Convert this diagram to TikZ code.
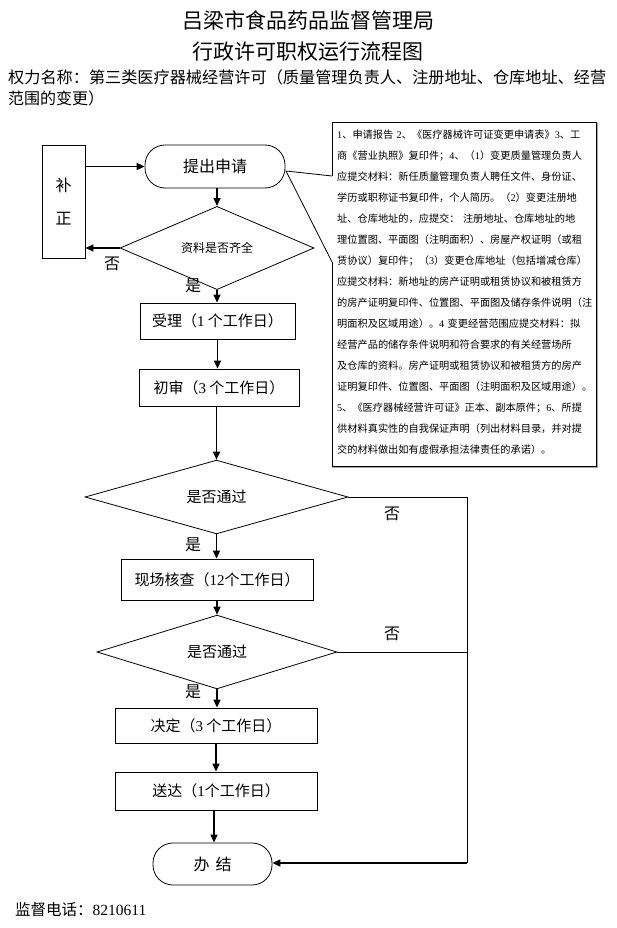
\documentclass[tikz,border=0pt]{standalone}
\usepackage{fontspec}
\setmainfont{Noto Sans CJK SC}
\newfontfamily\latin{Liberation Serif}
\usetikzlibrary{shapes.geometric,arrows.meta}
\newcommand\dg[1]{{\latin #1}}
\tikzset{
  every node/.style={inner sep=0pt},
  pbox/.style={draw, line width=0.8pt, rectangle, font=\fontsize{15}{18}\selectfont},
  term/.style={draw, line width=0.8pt, rectangle, rounded corners=20pt, font=\fontsize{16}{18}\selectfont},
  dia/.style={draw, line width=0.8pt, diamond, aspect=1, font=\fontsize{15}{18}\selectfont},
  arr/.style={line width=1.6pt, -{Triangle[length=8pt,width=7pt]}},
  noline/.style={line width=1pt},
  lbl/.style={font=\fontsize{16}{18}\selectfont},
}
\begin{document}
\begin{tikzpicture}[x=1pt,y=-1pt]
\useasboundingbox (0,0) rectangle (617,928);
% titles
\node[font=\fontsize{21}{24}\selectfont] (t1) at (308,20) {吕梁市食品药品监督管理局};
\node[font=\fontsize{21}{24}\selectfont] (t2) at (308,52) {行政许可职权运行流程图};
\node[font=\fontsize{16.6}{21}\selectfont, anchor=west] (t3) at (8,77) {\resizebox{598pt}{!}{权力名称：第三类医疗器械经营许可（质量管理负责人、注册地址、仓库地址、经营}};
\node[font=\fontsize{16}{21}\selectfont, anchor=west] (t4) at (8,98) {范围的变更）};
% flow nodes
\node[draw, line width=0.8pt, minimum width=43pt, minimum height=113pt, align=center, font=\fontsize{16}{33}\selectfont] (bz) at (63.5,201.5) {补\\正};
\node[term, minimum width=140pt, minimum height=43pt] (tc) at (215,166.5) {提出申请};
\node[dia, minimum width=194pt, minimum height=62pt, font=\fontsize{12}{14}\selectfont] (d1) at (217,248) {资料是否齐全};
\node[pbox, minimum width=155pt, minimum height=36pt] (sl) at (217.5,321) {受理（\dg{1} 个工作日）};
\node[pbox, minimum width=160pt, minimum height=37pt] (cs) at (219,387.5) {初审（\dg{3} 个工作日）};
\node[dia, minimum width=263pt, minimum height=64pt] (d2) at (216.5,497) {是否通过};
\node[pbox, minimum width=192pt, minimum height=41pt] (xc) at (217,579.5) {现场核查（\dg{12}个工作日）};
\node[dia, minimum width=240pt, minimum height=60pt] (d3) at (217,652) {是否通过};
\node[pbox, minimum width=202pt, minimum height=35pt] (jd) at (216,725.5) {决定（\dg{3} 个工作日）};
\node[pbox, minimum width=202pt, minimum height=38pt] (sd) at (216,791) {送达（\dg{1}个工作日）};
\node[term, minimum width=119pt, minimum height=42pt] (bj) at (212.5,864) {办\hspace{6pt}结};
% labels
\node[lbl] (n1) at (112,264) {否};
\node[lbl] (y1) at (193,286) {是};
\node[lbl] (n2) at (392,514) {否};
\node[lbl] (y2) at (193,545) {是};
\node[lbl] (n3) at (392,634) {否};
\node[lbl] (y3) at (193,692) {是};
\node[anchor=west, font=\fontsize{15.5}{18}\selectfont] (tel) at (15,910) {监督电话：\dg{8210611}};
% connectors
\draw[arr] (bz.east |- tc.west) -- (tc.west);
\draw[arr] (tc.south -| d1.north) -- (d1.north);
\draw[arr] (d1.west) -- (bz.east |- d1.west);
\draw[arr] (d1.south) -- (d1.south |- sl.north);
\draw[arr] (sl.south) -- (sl.south |- cs.north);
\draw[arr] (d2.north |- cs.south) -- (d2.north);
\draw[arr] (d2.south) -- (d2.south |- xc.north);
\draw[arr] (xc.south) -- (xc.south |- d3.north);
\draw[arr] (d3.south) -- (d3.south |- jd.north);
\draw[arr] (jd.south) -- (jd.south |- sd.north);
\coordinate (sdb) at (214,810);
\draw[arr] (sdb) -- (sdb |- bj.north);
\coordinate (r1) at (467,497);
\coordinate (r2) at (467,863);
\draw[noline] (d2.east) -- (r1);
\draw[noline] (d3.east) -- (d3.east -| r1);
\draw[noline] (r1) -- (r2);
\draw[arr] (r2) -- (bj.east |- r2);
% callout
\coordinate (ctip) at (286,171);
\coordinate (ca) at (332,176);
\coordinate (cb) at (332,262);
\draw[gray!70, line width=2pt] (597,123) -- (597,467) -- (332,467);
\draw[line width=0.8pt] (ca) -- (332,122) -- (596,122) -- (596,466) -- (332,466) -- (cb);
\draw[line width=0.8pt] (ca) -- (ctip) -- (cb);
\node[anchor=north west, align=left, text width=258pt, font=\fontsize{10.2}{21}\selectfont] (ctext) at (337,129.5) {%
\dg{1}、申请报告 \dg{2}、《医疗器械许可证变更申请表》\dg{3}、工\\
商《营业执照》复印件；\dg{4}、（\dg{1}）变更质量管理负责人\\
应提交材料：新任质量管理负责人聘任文件、身份证、\\
学历或职称证书复印件，个人简历。（\dg{2}）变更注册地\\
址、仓库地址的，应提交：\ 注册地址、仓库地址的地\\
理位置图、平面图（注明面积）、房屋产权证明（或租\\
赁协议）复印件；（\dg{3}）变更仓库地址（包括增减仓库）\\
应提交材料：新地址的房产证明或租赁协议和被租赁方\\
的房产证明复印件、位置图、平面图及储存条件说明（注\\
明面积及区域用途）。\dg{4} 变更经营范围应提交材料：拟\\
经营产品的储存条件说明和符合要求的有关经营场所\\
及仓库的资料。房产证明或租赁协议和被租赁方的房产\\
证明复印件、位置图、平面图（注明面积及区域用途）。\\
\dg{5}、《医疗器械经营许可证》正本、副本原件；\dg{6}、所提\\
供材料真实性的自我保证声明（列出材料目录，并对提\\
交的材料做出如有虚假承担法律责任的承诺）。};
\end{tikzpicture}
\end{document}
